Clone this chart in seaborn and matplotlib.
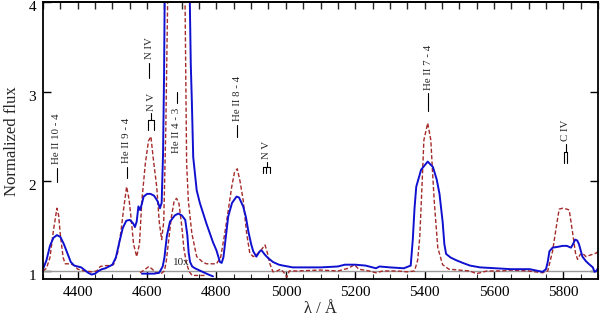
import numpy as np
import pandas as pd
import matplotlib
matplotlib.use("Agg")
import matplotlib.pyplot as plt
import matplotlib.transforms as mtransforms
import seaborn as sns

# spectrum (wavelength in A, normalized flux)
blue_wl = [4300, 4310, 4320, 4330, 4340, 4350, 4360, 4370, 4380, 4390, 4400, 4410, 4420, 4430,
           4440, 4450, 4460, 4470, 4480, 4490, 4500, 4510, 4520, 4530, 4540, 4550, 4560, 4565,
           4570, 4575, 4580, 4585, 4590, 4600, 4610, 4620, 4630, 4637, 4642, 4646, 4649, 4651,
           4660, 4686, 4715, 4722, 4726, 4729, 4733, 4743, 4752, 4762, 4771, 4781, 4790, 4800,
           4810, 4815, 4820, 4827, 4834, 4845, 4858, 4865, 4877, 4885, 4892, 4900, 4906, 4915,
           4925, 4930, 4940, 4950, 4963, 4980, 4992, 5020, 5050, 5100, 5150, 5170, 5200, 5230,
           5250, 5260, 5270, 5300, 5340, 5360, 5366, 5371, 5376, 5390, 5409, 5424, 5435, 5443,
           5452, 5457, 5462, 5475, 5491, 5510, 5531, 5560, 5607, 5650, 5703, 5740, 5750, 5755,
           5760, 5769, 5785, 5798, 5810, 5822, 5828, 5834, 5840, 5845, 5855, 5865, 5873, 5885,
           5890, 5895, 5900]
blue_fl = [1.02, 1.12, 1.28, 1.37, 1.40, 1.38, 1.30, 1.20, 1.10, 1.06, 1.05, 1.04, 1.01, 0.98,
           0.96, 0.97, 1.00, 1.02, 1.03, 1.05, 1.07, 1.15, 1.32, 1.48, 1.56, 1.57, 1.53, 1.49,
           1.55, 1.72, 1.68, 1.75, 1.83, 1.86, 1.86, 1.84, 1.78, 1.70, 1.76, 2.30, 3.20, 4.20,
           6.5, 8.0, 6.0, 4.30, 3.30, 2.90, 2.27, 1.90, 1.76, 1.64, 1.53, 1.42, 1.32, 1.23,
           1.10, 1.09, 1.15, 1.38, 1.61, 1.76, 1.83, 1.82, 1.72, 1.60, 1.44, 1.30, 1.22, 1.16,
           1.22, 1.23, 1.18, 1.14, 1.10, 1.07, 1.06, 1.04, 1.04, 1.04, 1.05, 1.07, 1.07, 1.06,
           1.04, 1.03, 1.05, 1.04, 1.03, 1.06, 1.35, 1.70, 1.94, 2.13, 2.22, 2.16, 2.02, 1.86,
           1.55, 1.30, 1.19, 1.15, 1.12, 1.09, 1.06, 1.04, 1.03, 1.02, 1.02, 0.99, 1.02, 1.10,
           1.22, 1.26, 1.27, 1.28, 1.28, 1.26, 1.30, 1.35, 1.34, 1.30, 1.16, 1.11, 1.08, 1.04,
           0.99, 1.00, 1.03]

red_wl = [4300, 4310, 4320, 4330, 4340, 4345, 4350, 4358, 4364, 4380, 4390, 4400, 4420, 4440,
          4455, 4465, 4480, 4490, 4503, 4515, 4525, 4532, 4541, 4548, 4555, 4561, 4570, 4578,
          4585, 4595, 4604, 4611, 4618, 4628, 4635, 4642, 4648, 4654, 4660, 4680, 4700, 4709,
          4714, 4719, 4729, 4743, 4760, 4771, 4800, 4812, 4824, 4835, 4844, 4852, 4860, 4868,
          4877, 4887, 4896, 4906, 4915, 4930, 4940, 4947, 4954, 4963, 4975, 4985, 4995, 5003,
          5010, 5030, 5100, 5150, 5180, 5198, 5210, 5240, 5260, 5280, 5320, 5350, 5371, 5380,
          5386, 5392, 5398, 5409, 5418, 5423, 5428, 5438, 5452, 5470, 5500, 5530, 5550, 5580,
          5620, 5650, 5700, 5740, 5755, 5769, 5780, 5788, 5798, 5810, 5817, 5827, 5835, 5841,
          5848, 5855, 5865, 5880, 5895, 5900]
red_fl = [1.00, 1.03, 1.15, 1.45, 1.70, 1.62, 1.40, 1.15, 1.08, 1.08, 1.06, 1.02, 1.00, 0.99,
          1.00, 1.05, 1.06, 1.06, 1.07, 1.20, 1.45, 1.68, 1.94, 1.80, 1.55, 1.30, 1.16, 1.30,
          1.79, 2.20, 2.45, 2.50, 2.25, 1.93, 1.55, 1.35, 1.55, 2.60, 4.20, 6.0, 5.0, 4.20,
          2.20, 1.78, 1.42, 1.16, 1.10, 1.08, 1.08, 1.15, 1.42, 1.70, 1.94, 2.10, 2.14, 2.00,
          1.79, 1.42, 1.20, 1.16, 1.18, 1.24, 1.29, 1.20, 1.08, 0.99, 1.00, 1.02, 0.98, 0.93,
          1.00, 1.00, 1.01, 1.00, 1.03, 1.07, 1.02, 1.00, 0.98, 1.00, 1.00, 0.99, 1.00, 1.12,
          1.37, 1.90, 2.46, 2.65, 2.46, 2.10, 1.77, 1.26, 1.07, 1.02, 1.01, 1.00, 0.97, 1.00,
          1.00, 1.01, 1.00, 0.98, 1.00, 1.22, 1.50, 1.69, 1.70, 1.69, 1.68, 1.42, 1.20, 1.13,
          1.18, 1.20, 1.16, 1.18, 1.20, 1.22]

# He II 4686 scaled down by 10
blue10_wl = [4585, 4600, 4620, 4635, 4645, 4650, 4657, 4666, 4680, 4690, 4700, 4710, 4716,
             4720, 4724, 4730, 4738, 4760, 4777, 4790]
blue10_fl = [0.97, 0.97, 0.97, 0.98, 1.05, 1.15, 1.39, 1.55, 1.62, 1.64, 1.62, 1.57, 1.40,
             1.20, 1.10, 1.05, 1.03, 0.99, 0.96, 0.94]
red10_wl = [4580, 4595, 4605, 4615, 4625, 4640, 4650, 4655, 4661, 4670, 4678, 4685, 4692,
            4700, 4706, 4714, 4722, 4730, 4750, 4770]
red10_fl = [0.98, 1.02, 1.05, 1.02, 0.98, 0.97, 1.00, 1.10, 1.30, 1.60, 1.78, 1.81, 1.75,
            1.50, 1.25, 1.08, 0.99, 0.95, 0.95, 0.95]

# line identifications: single lines (label, wavelength, marker bottom, marker top)
single_labels = ["He II 10 - 4", "He II 9 - 4", "He II 8 - 4", "He II 7 - 4", "N IV"]
single_wl = [4340, 4542, 4860, 5411, 4606]
single_lo = [1.99, 2.04, 2.49, 2.79, 3.15]
single_hi = [2.15, 2.16, 2.63, 2.98, 3.32]

# doublets (label, component wavelengths, prong bottom, bar, stem top)
doublet_labels = ["N V", "N V", "C IV"]
doublet_wl = [[4604, 4620], [4935, 4944, 4954], [5801, 5812]]
doublet_lo = [2.57, 2.09, 2.21]
doublet_bar = [2.68, 2.16, 2.33]
doublet_hi = [2.76, 2.215, 2.42]

sns.set_theme(style="ticks")
plt.rcParams["font.family"] = ["Liberation Serif", "DejaVu Serif"]

fig = plt.figure(figsize=(6, 3.22), dpi=100)
ax = fig.add_axes([0.0717, 0.1326, 0.925, 0.861])

ax.axhline(1.0, color="#9a9a9a", lw=1.0, zorder=1)

df_blue = pd.DataFrame({"wl": blue_wl, "flux": blue_fl})
df_red = pd.DataFrame({"wl": red_wl, "flux": red_fl})
df_b10 = pd.DataFrame({"wl": blue10_wl, "flux": blue10_fl})
df_r10 = pd.DataFrame({"wl": red10_wl, "flux": red10_fl})

dash = (0, (3, 1.6))
sns.lineplot(data=df_red, x="wl", y="flux", ax=ax, color="#a52a2a", lw=1.0, linestyle=dash, sort=False)
sns.lineplot(data=df_r10, x="wl", y="flux", ax=ax, color="#a52a2a", lw=1.0, linestyle=dash, sort=False)
sns.lineplot(data=df_blue, x="wl", y="flux", ax=ax, color="#1010d0", lw=1.4, sort=False)
sns.lineplot(data=df_b10, x="wl", y="flux", ax=ax, color="#1010d0", lw=1.4, sort=False)

ax.text(4675, 1.09, "10x", fontsize=8, ha="left", va="center")

# single line markers
for lab, w, lo, hi in zip(single_labels, single_wl, single_lo, single_hi):
    ax.plot([w, w], [lo, hi], color="black", lw=0.8)
    ax.text(w, hi + 0.04, lab, rotation=90, ha="center", va="bottom", fontsize=7.8)

# He II 4-3: text below, marker above
ax.text(4686, 2.32, "He II 4 - 3", rotation=90, ha="center", va="bottom", fontsize=7.8)
ax.plot([4686, 4686], [2.87, 3.0], color="black", lw=0.8)

# doublet markers
for lab, ws, lo, bar, hi in zip(doublet_labels, doublet_wl, doublet_lo, doublet_bar, doublet_hi):
    mid = np.mean([ws[0], ws[-1]])
    ax.plot([mid, mid], [bar, hi], color="black", lw=0.8)
    ax.plot([ws[0], ws[-1]], [bar, bar], color="black", lw=0.8)
    for w in ws:
        ax.plot([w, w], [lo, bar], color="black", lw=0.8)
    ax.text(mid, hi + 0.03, lab, rotation=90, ha="center", va="bottom", fontsize=7.8)

ax.set_xlim(4300, 5900)
ax.set_ylim(0.907, 4.0)
ax.set_xticks(np.arange(4400, 5900, 200))
ax.set_xticks(np.arange(4300, 5901, 50), minor=True)
ax.set_yticks([1, 2, 3, 4])
ax.tick_params(axis="both", which="major", direction="in", length=6, width=1.0,
               labelsize=11, colors="black", right=True, pad=5)
ax.tick_params(axis="x", which="minor", direction="in", length=3.5, width=0.8, top=False)
ax.tick_params(axis="x", which="major", top=False)

# nudge y tick labels down a little so the top one stays inside the figure
shift = mtransforms.ScaledTranslation(0, -4 / 100, fig.dpi_scale_trans)
for lbl in ax.get_yticklabels():
    lbl.set_transform(lbl.get_transform() + shift)

top = ax.secondary_xaxis("top")
top.set_xticks(np.arange(4300, 5901, 50))
top.tick_params(direction="in", length=5, width=1.0, labeltop=False)
top.spines["top"].set_linewidth(1.3)

for s in ax.spines.values():
    s.set_linewidth(1.3)
    s.set_color("black")

ax.set_xlabel("λ / Å", fontsize=12, labelpad=1)
ax.set_ylabel("Normalized flux", fontsize=12, labelpad=6)

fig.savefig("out.png", dpi=100)
